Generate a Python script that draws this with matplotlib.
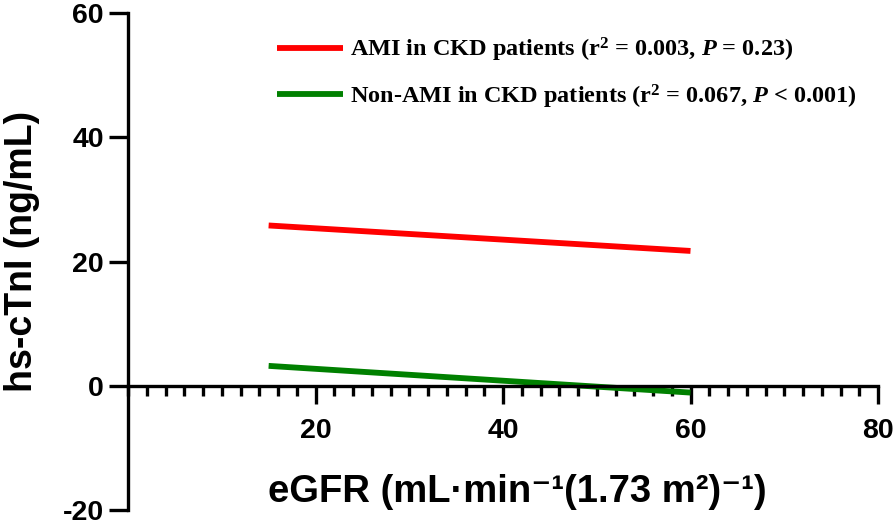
import numpy as np
import matplotlib
matplotlib.use('Agg')
import matplotlib.pyplot as plt
from matplotlib.ticker import MultipleLocator

plt.rcParams['font.family'] = ['Liberation Sans', 'DejaVu Sans']
plt.rcParams['axes.unicode_minus'] = False
plt.rcParams['mathtext.fontset'] = 'custom'
plt.rcParams['mathtext.rm'] = 'Liberation Serif:bold'
plt.rcParams['mathtext.it'] = 'Liberation Serif:italic:bold'

# regression lines (eGFR, hs-cTnI)
ami_x = [15, 60]
ami_y = [25.8, 21.7]
non_ami_x = [15, 60]
non_ami_y = [3.2, -1.1]

labels = ['AMI in CKD patients (r$^{2}$ = 0.003, $P$ = 0.23)',
          'Non-AMI in CKD patients (r$^{2}$ = 0.067, $P$ < 0.001)']

fig = plt.figure(figsize=(8.96, 5.24), dpi=100)
ax = fig.add_axes([128 / 896, 1 - 510 / 524, 750 / 896, 497 / 524])

ax.plot(ami_x, ami_y, color='#ff0000', lw=4.2, label=labels[0],
        solid_capstyle='butt')
ax.plot(non_ami_x, non_ami_y, color='#008000', lw=4.2, label=labels[1],
        solid_capstyle='butt')

ax.set_xlim(0, 80)
ax.set_ylim(-20, 60)
ax.spines['top'].set_visible(False)
ax.spines['right'].set_visible(False)
ax.spines['bottom'].set_position(('data', 0))
for s in ['left', 'bottom']:
    ax.spines[s].set_linewidth(2.4)

ax.set_xticks([20, 40, 60, 80])
ax.xaxis.set_minor_locator(MultipleLocator(2))
ax.set_yticks([-20, 0, 20, 40, 60])
ax.tick_params(axis='x', which='major', length=13, width=2.4, pad=10,
               labelsize=20.5)
ax.tick_params(axis='x', which='minor', length=7, width=2.4)
ax.tick_params(axis='y', which='major', length=13.5, width=2.4, pad=4,
               labelsize=20.5)
for t in ax.get_xticklabels() + ax.get_yticklabels():
    t.set_fontweight('bold')

fig.text(517 / 896, 1 - 502 / 524, 'eGFR (mL·min⁻¹(1.73 m²)⁻¹)',
         ha='center', va='baseline', fontsize=27.5, fontweight='bold')
fig.text(22 / 896, 1 - 251 / 524, 'hs-cTnI (ng/mL)', rotation=90,
         ha='center', va='center', fontsize=27, fontweight='bold')

leg = ax.legend(loc='upper left', bbox_to_anchor=(255 / 896, 1 - 14 / 524),
                bbox_transform=fig.transFigure, frameon=False,
                prop={'family': 'Liberation Serif', 'weight': 'bold',
                      'size': 17.5},
                handlelength=2.7, handletextpad=0.3, labelspacing=0.75)

fig.savefig('out.png', dpi=100)
